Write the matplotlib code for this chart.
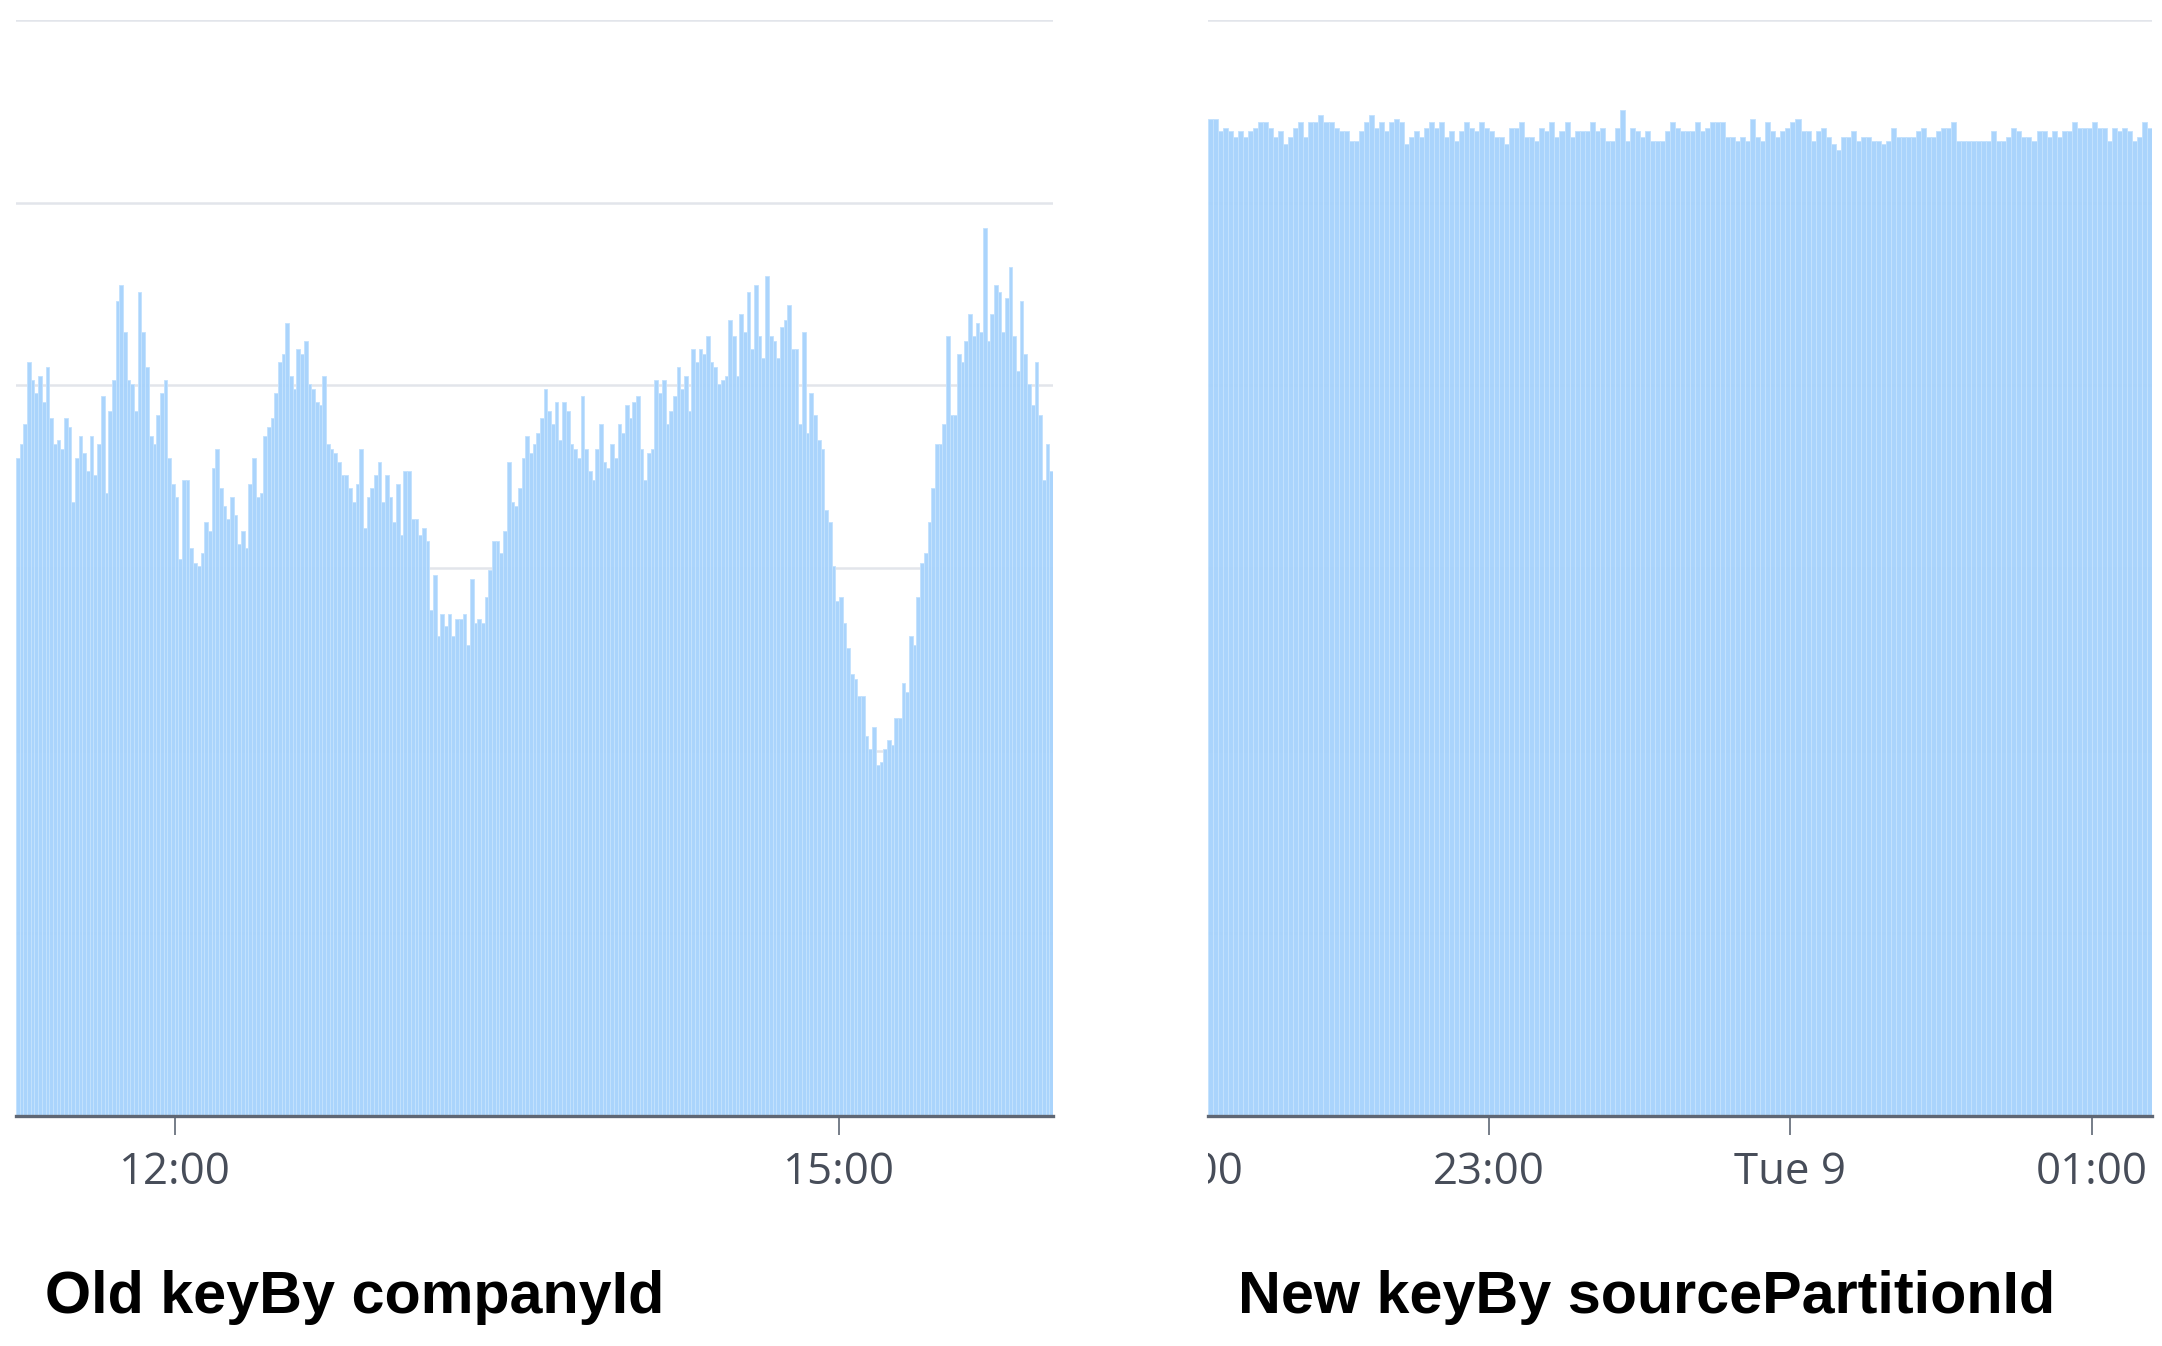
import matplotlib
matplotlib.use("Agg")
import matplotlib.pyplot as plt
import matplotlib.dates as mdates
from matplotlib.transforms import Bbox, TransformedBbox
import pandas as pd

# ---------------- data ----------------
old_start = "2020-06-08 11:17"
old_values = [
    3.60, 3.68, 3.79, 4.13, 4.03, 3.96, 4.05, 3.91, 4.10, 3.82, 3.68, 3.70, 3.65, 3.82, 3.77, 3.36, 3.60, 3.72, 3.63, 3.53,
    3.72, 3.51, 3.68, 3.94, 3.41, 3.86, 4.03, 4.46, 4.55, 4.29, 4.03, 4.01, 3.86, 4.51, 4.29, 4.10, 3.72, 3.68, 3.84, 3.96,
    4.03, 3.60, 3.46, 3.39, 3.05, 3.48, 3.48, 3.11, 3.03, 3.01, 3.08, 3.25, 3.20, 3.55, 3.65, 3.44, 3.34,
    3.27, 3.39, 3.29, 3.13, 3.20, 3.11, 3.46, 3.60, 3.39, 3.41, 3.72, 3.77, 3.82, 3.96, 4.13, 4.17, 4.34, 4.05, 3.98, 4.20,
    4.17, 4.24, 4.01, 3.98, 3.91, 3.89, 4.05, 3.68, 3.65, 3.63, 3.58, 3.51, 3.51, 3.44, 3.36, 3.46, 3.65, 3.22, 3.39, 3.44,
    3.51, 3.58, 3.36, 3.51, 3.39, 3.25, 3.46, 3.18, 3.53, 3.53, 3.27, 3.27, 3.18, 3.22, 3.15, 2.77, 2.96,
    2.63, 2.75, 2.68, 2.75, 2.63, 2.72, 2.72, 2.75, 2.58, 2.94, 2.70, 2.72, 2.70, 2.84, 2.99, 3.15, 3.15, 3.08, 3.20, 3.58,
    3.36, 3.34, 3.44, 3.60, 3.72, 3.63, 3.68, 3.74, 3.82, 3.98, 3.86, 3.79, 3.91, 3.70, 3.91, 3.86, 3.68, 3.65, 3.60, 3.94,
    3.65, 3.53, 3.48, 3.65, 3.79, 3.58, 3.55, 3.68, 3.60, 3.79, 3.74, 3.89, 3.82, 3.91, 3.94, 3.65, 3.48,
    3.63, 3.65, 4.03, 3.96, 4.03, 3.79, 3.86, 3.94, 4.10, 3.98, 4.05, 3.86, 4.20, 4.13, 4.20, 4.17, 4.27, 4.13,
    4.10, 4.01, 4.03, 4.05, 4.36, 4.27, 4.05, 4.39, 4.29, 4.51, 4.20, 4.55, 4.27, 4.15, 4.60, 4.27, 4.24, 4.15, 4.32, 4.36,
    4.44, 4.20, 4.20, 3.79, 4.29, 3.74, 3.96, 3.84, 3.70, 3.65, 3.32, 3.25, 3.01, 2.82, 2.84, 2.70, 2.56, 2.42,
    2.39, 2.30, 2.30, 2.08, 2.01, 2.13, 1.92, 1.94, 2.01, 2.06, 2.03, 2.18, 2.18, 2.37, 2.32, 2.63, 2.58, 2.84, 3.03, 3.08,
    3.25, 3.44, 3.68, 3.68, 3.79, 4.27, 3.84, 3.84, 4.17, 4.13, 4.24, 4.39, 4.27, 4.34, 4.29, 4.86, 4.24, 4.39, 4.55, 4.51,
    4.29, 4.48, 4.65, 4.27, 4.08, 4.46, 4.17, 4.01, 3.89, 4.13, 3.84, 3.48, 3.68, 3.53,
]

new_start = "2020-06-08 22:04"
new_values = [
    5.46, 5.46, 5.39, 5.41, 5.39, 5.36, 5.39, 5.36, 5.39, 5.41,
    5.44, 5.44, 5.41, 5.36, 5.39, 5.32, 5.36, 5.41, 5.44, 5.36,
    5.44, 5.44, 5.48, 5.44, 5.44, 5.41, 5.39, 5.39, 5.34, 5.34,
    5.39, 5.44, 5.48, 5.41, 5.44, 5.39, 5.44, 5.46, 5.44, 5.32,
    5.36, 5.39, 5.36, 5.41, 5.44, 5.41, 5.44, 5.36, 5.39, 5.34,
    5.39, 5.44, 5.41, 5.39, 5.44, 5.41, 5.39, 5.36, 5.36, 5.32,
    5.41, 5.41, 5.44, 5.36, 5.36, 5.34, 5.41, 5.39, 5.44, 5.36,
    5.39, 5.44, 5.36, 5.39, 5.39, 5.39, 5.44, 5.39, 5.41, 5.34,
    5.34, 5.41, 5.51, 5.34, 5.41, 5.39, 5.36, 5.39, 5.34, 5.34,
    5.34, 5.39, 5.44, 5.41, 5.39, 5.39, 5.39, 5.44,
    5.39, 5.41, 5.44, 5.44, 5.44, 5.36, 5.36, 5.34, 5.36, 5.34,
    5.46, 5.36, 5.34, 5.44, 5.39, 5.36, 5.39, 5.41, 5.44, 5.46,
    5.39, 5.39, 5.34, 5.39, 5.41, 5.36, 5.32, 5.29, 5.36, 5.36,
    5.39, 5.34, 5.36, 5.36, 5.34, 5.34, 5.32, 5.34, 5.41, 5.36,
    5.36, 5.36, 5.36, 5.39, 5.41, 5.36, 5.36, 5.39, 5.41, 5.41,
    5.44, 5.34, 5.34, 5.34, 5.34, 5.34, 5.34, 5.34, 5.39, 5.34,
    5.34, 5.36, 5.41, 5.39, 5.36, 5.36, 5.34, 5.39, 5.39, 5.36,
    5.39, 5.36, 5.39, 5.39, 5.44, 5.41, 5.41, 5.41, 5.44, 5.41,
    5.41, 5.34, 5.41, 5.39, 5.41, 5.39, 5.34, 5.36, 5.44, 5.41,
]

old_ticks = ["2020-06-08 12:00", "2020-06-08 15:00"]
old_tick_labels = ["12:00", "15:00"]
new_ticks = ["2020-06-08 23:00", "2020-06-09 00:00", "2020-06-09 01:00"]
new_tick_labels = ["23:00", "Tue 9", "01:00"]
new_clipped_tick = "2020-06-08 22:00"
new_clipped_label = "22:00"

old_title = "Old keyBy companyId"
new_title = "New keyBy sourcePartitionId"

# ---------------- style ----------------
W, H = 2162, 1346
DPI = 100
BAR_FACE = "#a6d2fc"
BAR_EDGE = "#c4e2fe"
GRID = "#e2e5eb"
AXIS = "#5f6774"
TICKTXT = "#474d59"
TICK_FS = 31.5

fig = plt.figure(figsize=(W / DPI, H / DPI), dpi=DPI)
fig.patch.set_facecolor("white")

base_y = 1116
top_y = 20
ax_h = (base_y - top_y) / H
ax_b = (H - base_y) / H

def make_axes(x0, x1):
    return fig.add_axes([x0 / W, ax_b, (x1 - x0) / W, ax_h])

one_min = 1.0 / 1440.0

def draw(ax, start, values, ticks, labels):
    times = pd.date_range(start, periods=len(values), freq="min")
    x = mdates.date2num(times.to_pydatetime())
    ax.bar(x, values, width=one_min, align="edge", color=BAR_FACE,
           edgecolor=BAR_EDGE, linewidth=0.7, alpha=0.95, zorder=2)
    ax.set_xlim(x[0], x[-1] + one_min)
    ax.set_ylim(0, 6.0)
    ax.set_yticks([1, 2, 3, 4, 5, 6])
    ax.yaxis.grid(True, color=GRID, linewidth=1.8, zorder=0)
    ax.set_axisbelow(True)
    ax.tick_params(axis="y", left=False, labelleft=False)
    for s in ["top", "left", "right"]:
        ax.spines[s].set_visible(False)
    ax.spines["bottom"].set_color(AXIS)
    ax.spines["bottom"].set_linewidth(2.4)
    ax.spines["bottom"].set_zorder(5)
    tk = mdates.date2num(pd.to_datetime(ticks).to_pydatetime())
    ax.set_xticks(tk)
    ax.set_xticklabels(labels)
    ax.tick_params(axis="x", length=14, width=1.2, color=AXIS, pad=11,
                   labelsize=TICK_FS, labelcolor=TICKTXT)
    for lab in ax.get_xticklabels():
        lab.set_fontfamily(["Open Sans", "DejaVu Sans"])
    ax.set_facecolor("none")
    return x

ax1 = make_axes(16, 1053)
draw(ax1, old_start, old_values, old_ticks, old_tick_labels)

ax2 = make_axes(1208, 2152)
draw(ax2, new_start, new_values, new_ticks, new_tick_labels)

# partially visible "22:00" label at the left edge of the right chart
fig.canvas.draw()
lab_ref = ax2.get_xticklabels()[0]
ext = lab_ref.get_window_extent()
ycenter_px = (ext.y0 + ext.y1) / 2.0
xc = mdates.date2num(pd.to_datetime(new_clipped_tick).to_pydatetime())
xpx = ax2.transData.transform((xc, 0))[0]
t = fig.text(xpx / W, ycenter_px / H, new_clipped_label, fontsize=TICK_FS, color=TICKTXT,
             family=["Open Sans", "DejaVu Sans"], ha="center", va="center")
clip = TransformedBbox(Bbox([[1208 / W, 0], [1, 1]]), fig.transFigure)
t.set_clip_box(clip)
t.set_clip_on(True)

# titles
title_y = (H - 1313) / H
fig.text(45 / W, title_y, old_title, fontsize=42.7, fontweight="bold",
         family=["Liberation Sans", "DejaVu Sans"], color="black", va="baseline", ha="left")
fig.text(1238 / W, title_y, new_title, fontsize=42.7, fontweight="bold",
         family=["Liberation Sans", "DejaVu Sans"], color="black", va="baseline", ha="left")

fig.savefig("out.png", dpi=DPI, facecolor="white")
